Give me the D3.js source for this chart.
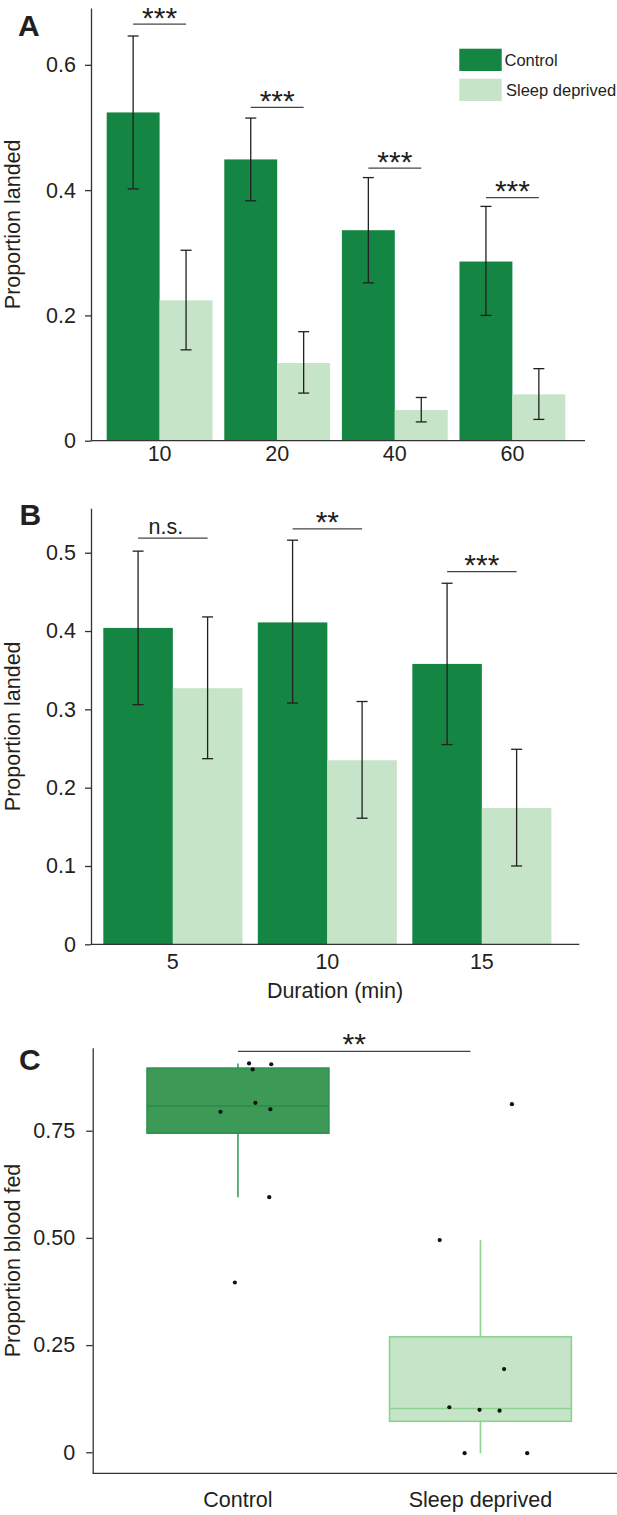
<!DOCTYPE html>
<html><head><meta charset="utf-8">
<script src="https://cdn.jsdelivr.net/npm/d3@7"></script>
<style>
body{margin:0;background:#fff}
text{font-family:"Liberation Sans",Arial,Helvetica,sans-serif;fill:#231f20}
</style>
</head><body><svg id="chart" width="617" height="1515"></svg>
<script>
// ---------- Panel A data ----------
const aDurations = ["10", "20", "40", "60"];
const aControl   = [0.524, 0.449, 0.336, 0.286];
const aControlLo = [0.402, 0.383, 0.252, 0.200];
const aControlHi = [0.646, 0.515, 0.420, 0.374];
const aSleep     = [0.224, 0.124, 0.049, 0.074];
const aSleepLo   = [0.145, 0.076, 0.030, 0.034];
const aSleepHi   = [0.304, 0.174, 0.069, 0.115];
const aSigLabels = ["***", "***", "***", "***"];
const aSigLevel  = [0.665, 0.532, 0.435, 0.388];
const aTicks     = [0, 0.2, 0.4, 0.6];

// ---------- Panel B data ----------
const bDurations = ["5", "10", "15"];
const bControl   = [0.404, 0.411, 0.358];
const bControlLo = [0.306, 0.308, 0.255];
const bControlHi = [0.502, 0.516, 0.461];
const bSleep     = [0.327, 0.235, 0.174];
const bSleepLo   = [0.237, 0.161, 0.100];
const bSleepHi   = [0.418, 0.310, 0.249];
const bSigLabels = ["n.s.", "**", "***"];
const bSigLevel  = [0.5185, 0.5304, 0.4759];
const bTicks     = [0, 0.1, 0.2, 0.3, 0.4, 0.5];

// ---------- Panel C data ----------
const cGroups      = ["Control", "Sleep deprived"];
const cControlPts  = [0.907, 0.893, 0.905, 0.815, 0.794, 0.800, 0.595, 0.396];
const cControlJit  = [0.061, 0.081, 0.183, 0.096, -0.096, 0.178, 0.172, -0.017];
const cSleepPts    = [0.812, 0.495, 0.194, 0.105, 0.099, 0.097, -0.002, -0.002];
const cSleepJit    = [0.173, -0.224, 0.130, -0.171, -0.005, 0.105, -0.087, 0.257];
const cSigLabel    = "**";
const cSigLevel    = 0.935;
const cTicks       = [0, 0.25, 0.5, 0.75];
const cTickLabels  = ["0", "0.25", "0.50", "0.75"];

const seriesNames = ["Control", "Sleep deprived"];
const DARK = "#148542", LIGHT = "#c6e4c7";
const AXIS = "#333333", INK = "#231f20";

const svg = d3.select("#chart");
svg.append("rect").attr("width", 617).attr("height", 1515).attr("fill", "#fff");

function barPanel(o) {
  const g = svg.append("g");
  const y = d3.scaleLinear().domain(o.yDomain).range(o.yRange);
  const x0 = d3.scaleBand().domain(o.cats).range(o.xRange).paddingInner(0.1).paddingOuter(0.05);
  const x1 = d3.scaleBand().domain(seriesNames).range([0, x0.bandwidth()]);
  const series = [
    {name: seriesNames[0], v: o.ctrl, lo: o.ctrlLo, hi: o.ctrlHi, color: DARK},
    {name: seriesNames[1], v: o.sd, lo: o.sdLo, hi: o.sdHi, color: LIGHT}
  ];
  series.forEach(s => {
    o.cats.forEach((c, i) => {
      const bx = x0(c) + x1(s.name);
      g.append("rect").attr("x", bx).attr("width", x1.bandwidth())
        .attr("y", y(s.v[i])).attr("height", y(0) - y(s.v[i])).attr("fill", s.color);
    });
  });
  // error bars
  series.forEach(s => {
    o.cats.forEach((c, i) => {
      const cx = x0(c) + x1(s.name) + x1.bandwidth() / 2;
      const eb = g.append("g").attr("stroke", INK).attr("stroke-width", 1.3);
      eb.append("line").attr("x1", cx).attr("x2", cx).attr("y1", y(s.hi[i])).attr("y2", y(s.lo[i]));
      eb.append("line").attr("x1", cx - 5.5).attr("x2", cx + 5.5).attr("y1", y(s.hi[i])).attr("y2", y(s.hi[i]));
      eb.append("line").attr("x1", cx - 5.5).attr("x2", cx + 5.5).attr("y1", y(s.lo[i])).attr("y2", y(s.lo[i]));
    });
  });
  // significance
  o.cats.forEach((c, i) => {
    const xa = x0(c) + x1(seriesNames[0]) + x1.bandwidth() / 2;
    const xb = x0(c) + x1(seriesNames[1]) + x1.bandwidth() / 2;
    const ly = y(o.sigLevel[i]);
    g.append("line").attr("x1", xa).attr("x2", xb).attr("y1", ly).attr("y2", ly)
      .attr("stroke", "#444").attr("stroke-width", 1.3);
    const lab = o.sigLabels[i];
    if (lab.includes("*")) {
      g.append("text").attr("x", (xa + xb) / 2).attr("y", ly + 3.5).attr("text-anchor", "middle")
        .attr("font-size", 30).text(lab);
    } else {
      g.append("text").attr("x", (xa + xb) / 2 - 7).attr("y", ly - 4).attr("text-anchor", "middle")
        .attr("font-size", 21.5).text(lab);
    }
  });
  // y axis
  const ya = g.append("g").attr("transform", `translate(${o.axisX},0)`)
    .call(d3.axisLeft(y).tickValues(o.ticks).tickFormat(d => d === 0 ? "0" : d3.format(".1f")(d))
      .tickSize(6).tickPadding(9).tickSizeOuter(0));
  ya.selectAll("path,line").attr("stroke", AXIS).attr("stroke-width", 1.3);
  ya.selectAll("text").attr("font-size", 21.5).attr("fill", INK).style("font-family", "'Liberation Sans',Arial,sans-serif");
  // x axis
  const xa = g.append("g").attr("transform", `translate(0,${y(0)})`)
    .call(d3.axisBottom(x0).tickSize(0).tickPadding(o.xPad).tickSizeOuter(0));
  xa.select("path").attr("d", `M${o.axisX},0H${o.xEnd}`).attr("stroke", AXIS).attr("stroke-width", 1.3);
  xa.selectAll("text").attr("font-size", 21.5).attr("fill", INK).style("font-family", "'Liberation Sans',Arial,sans-serif");
  // y label
  const ymid = (o.yRange[0] + o.yRange[1]) / 2;
  g.append("text").attr("transform", `translate(20,${ymid}) rotate(-90)`).attr("text-anchor", "middle")
    .attr("font-size", 21.5).text("Proportion landed");
  g.append("text").attr("x", o.letterX).attr("y", o.letterY).attr("font-size", 30).attr("font-weight", "bold")
    .text(o.letter);
  return {g, y, x0};
}

// Panel A
const A = barPanel({
  cats: aDurations, ctrl: aControl, ctrlLo: aControlLo, ctrlHi: aControlHi,
  sd: aSleep, sdLo: aSleepLo, sdHi: aSleepHi, sigLabels: aSigLabels, sigLevel: aSigLevel,
  ticks: aTicks, yDomain: [0, 0.6907], yRange: [440.7, 8], xRange: [100.8, 571.2],
  axisX: 91, xEnd: 585, xPad: 5, letter: "A", letterX: 18, letterY: 36
});
// legend
const leg = svg.append("g");
[DARK, LIGHT].forEach((c, i) => {
  leg.append("rect").attr("x", 459.3).attr("y", 48.7 + i * 30).attr("width", 42.4).attr("height", 22.3).attr("fill", c);
  leg.append("text").attr("x", 504.5 + i * 1.5).attr("y", 60 + i * 30).attr("dy", "0.35em")
    .attr("font-size", 16.5).text(seriesNames[i]);
});

// Panel B
const B = barPanel({
  cats: bDurations, ctrl: bControl, ctrlLo: bControlLo, ctrlHi: bControlHi,
  sd: bSleep, sdLo: bSleepLo, sdHi: bSleepHi, sigLabels: bSigLabels, sigLevel: bSigLevel,
  ticks: bTicks, yDomain: [0, 0.5567], yRange: [944.3, 508.3], xRange: [95.6, 559.1],
  axisX: 91, xEnd: 579.3, xPad: 9.5, letter: "B", letterX: 19.5, letterY: 525
});
B.g.append("text").attr("x", 335).attr("y", 998).attr("text-anchor", "middle").attr("font-size", 21.5)
  .text("Duration (min)");

// Panel C
(function () {
  const g = svg.append("g");
  const y = d3.scaleLinear().domain([-0.049, 0.9436]).range([1473.3, 1047.7]);
  const x = d3.scaleBand().domain(cGroups).range([92.7, 625.7]).paddingInner(0.25).paddingOuter(0.224);
  const groups = [
    {name: cGroups[0], pts: cControlPts, jit: cControlJit, fill: "#3c9a56", stroke: "#2b9150", med: "#2a8a48", wh: "#35a25c"},
    {name: cGroups[1], pts: cSleepPts, jit: cSleepJit, fill: "#c6e4c7", stroke: "#8ed190", med: "#8ed190", wh: "#8ed190"}
  ];
  groups.forEach(gr => {
    const s = gr.pts.slice().sort(d3.ascending);
    const q1 = d3.quantile(s, 0.25), med = d3.quantile(s, 0.5), q3 = d3.quantile(s, 0.75);
    const iqr = q3 - q1;
    const lo = d3.min(s.filter(v => v >= q1 - 1.5 * iqr));
    const hi = d3.max(s.filter(v => v <= q3 + 1.5 * iqr));
    const bx = x(gr.name), bw = x.bandwidth(), cx = bx + bw / 2;
    g.append("line").attr("x1", cx).attr("x2", cx).attr("y1", y(hi)).attr("y2", y(q3)).attr("stroke", gr.wh).attr("stroke-width", 1.6);
    g.append("line").attr("x1", cx).attr("x2", cx).attr("y1", y(q1)).attr("y2", y(lo)).attr("stroke", gr.wh).attr("stroke-width", 1.6);
    g.append("rect").attr("x", bx).attr("width", bw).attr("y", y(q3)).attr("height", y(q1) - y(q3))
      .attr("fill", gr.fill).attr("stroke", gr.stroke).attr("stroke-width", 1.6);
    g.append("line").attr("x1", bx).attr("x2", bx + bw).attr("y1", y(med)).attr("y2", y(med)).attr("stroke", gr.med).attr("stroke-width", 1.6);
    gr.pts.forEach((v, i) => {
      g.append("circle").attr("cx", cx + gr.jit[i] * bw).attr("cy", y(v)).attr("r", 2.1).attr("fill", "#111");
    });
  });
  // significance
  const xa = x(cGroups[0]) + x.bandwidth() / 2;
  const xb = x(cGroups[1]) + x.bandwidth() / 2 - 10;
  const ly = y(cSigLevel);
  g.append("line").attr("x1", xa).attr("x2", xb).attr("y1", ly).attr("y2", ly).attr("stroke", "#444").attr("stroke-width", 1.3);
  g.append("text").attr("x", (xa + xb) / 2).attr("y", ly + 3).attr("text-anchor", "middle").attr("font-size", 30).text(cSigLabel);
  // axes
  const ya = g.append("g").attr("transform", "translate(92.7,0)")
    .call(d3.axisLeft(y).tickValues(cTicks).tickFormat((d, i) => cTickLabels[i]).tickSize(6.5).tickPadding(11).tickSizeOuter(0));
  ya.selectAll("path,line").attr("stroke", AXIS).attr("stroke-width", 1.3);
  ya.selectAll("text").attr("font-size", 21.5).attr("fill", INK).style("font-family", "'Liberation Sans',Arial,sans-serif");
  const xa2 = g.append("g").attr("transform", "translate(0,1473.3)")
    .call(d3.axisBottom(x).tickSize(0).tickPadding(18).tickSizeOuter(0));
  xa2.select("path").attr("d", "M92.7,0H617").attr("stroke", AXIS).attr("stroke-width", 1.3);
  xa2.selectAll("text").attr("font-size", 21.5).attr("fill", INK).style("font-family", "'Liberation Sans',Arial,sans-serif");
  g.append("text").attr("transform", "translate(20,1260.5) rotate(-90)").attr("text-anchor", "middle")
    .attr("font-size", 21.5).text("Proportion blood fed");
  g.append("text").attr("x", 19).attr("y", 1070).attr("font-size", 30).attr("font-weight", "bold").text("C");
})();
</script>
</body></html>
